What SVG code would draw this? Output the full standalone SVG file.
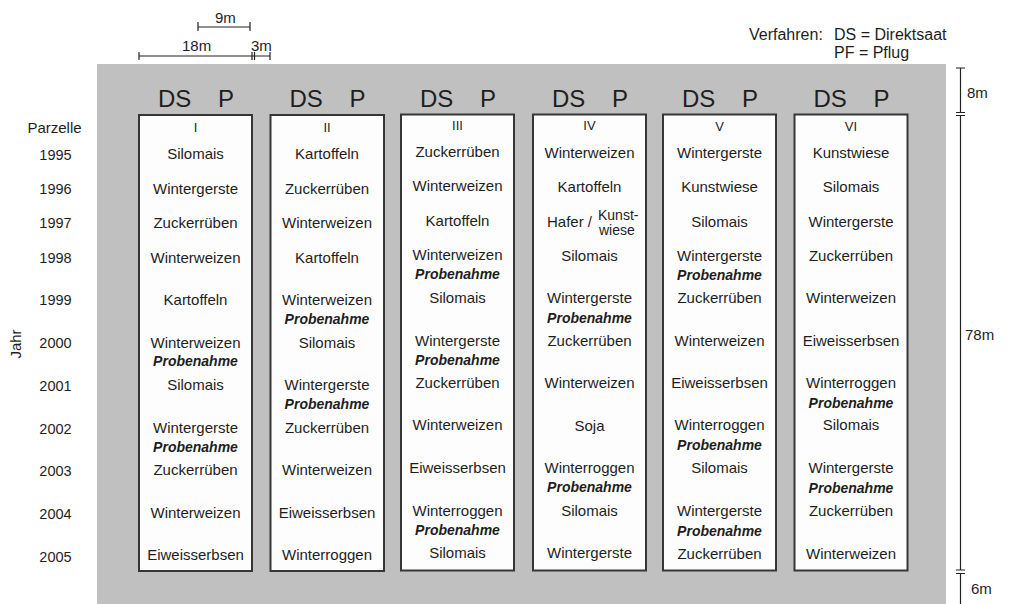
<svg xmlns="http://www.w3.org/2000/svg" width="1011" height="604" viewBox="0 0 1011 604">
<style>
text{font-family:"Liberation Sans",Arial,sans-serif;fill:#1e1e1e}
.c{font-size:15px;text-anchor:middle}
.p{font-size:14px;font-weight:bold;font-style:italic;text-anchor:middle}
.y{font-size:14.5px;text-anchor:middle}
.h{font-size:24px}
.n{font-size:13px;text-anchor:middle}
.d{font-size:15px}
.l{font-size:16px}
.box{fill:#fdfdfd;stroke:#363636;stroke-width:2}
.dim{stroke:#222;stroke-width:1.2;fill:none}
</style>
<rect x="0" y="0" width="1011" height="604" fill="#fff"/>
<rect x="97" y="64" width="849" height="540" fill="#c0c0c0"/>

<g id="scale-top">
<text class="d" x="215" y="23">9m</text>
<path class="dim" d="M198,27H250M198,22V31M250,22V31"/>
<text class="d" x="182" y="51">18m</text>
<text class="d" x="251" y="51">3m</text>
<path class="dim" d="M139,56H270M139,52V60M252,52V60M254.5,52V60M270,52V60"/>
</g>

<g id="legend">
<text class="l" x="749" y="40">Verfahren:</text>
<text class="l" x="834" y="40">DS = Direktsaat</text>
<text class="l" x="834" y="58">PF = Pflug</text>
</g>

<g id="scale-right">
<path class="dim" d="M960.5,68V112.5M956,68H965M956,112.5H965M956,115.5H965M960.5,115.5V570M956,570H965M956,573.5H965M960.5,573.5V604"/>
<text class="d" x="967" y="98">8m</text>
<text class="d" x="965" y="340">78m</text>
<text class="d" x="971" y="594">6m</text>
</g>

<g id="years">
<text x="54.5" y="133" style="font-size:15px;text-anchor:middle">Parzelle</text>
<text class="y" x="55.5" y="160">1995</text>
<text class="y" x="55.5" y="194">1996</text>
<text class="y" x="55.5" y="228">1997</text>
<text class="y" x="55.5" y="263">1998</text>
<text class="y" x="55.5" y="305">1999</text>
<text class="y" x="55.5" y="348">2000</text>
<text class="y" x="55.5" y="391">2001</text>
<text class="y" x="55.5" y="434">2002</text>
<text class="y" x="55.5" y="476">2003</text>
<text class="y" x="55.5" y="519">2004</text>
<text class="y" x="55.5" y="561.5">2005</text>
<text transform="translate(21,344) rotate(-90)" style="font-size:15px;text-anchor:middle">Jahr</text>
</g>

<g id="parcel-I">
<text class="h" x="158" y="107">DS</text><text class="h" x="218" y="107">P</text>
<rect class="box" x="139" y="115" width="113" height="456"/>
<text class="n" x="195.5" y="132">I</text>
<text class="c" x="195.5" y="159">Silomais</text>
<text class="c" x="195.5" y="193.5">Wintergerste</text>
<text class="c" x="195.5" y="228">Zuckerrüben</text>
<text class="c" x="195.5" y="262.5">Winterweizen</text>
<text class="c" x="195.5" y="305">Kartoffeln</text>
<text class="c" x="195.5" y="347.5">Winterweizen</text>
<text class="p" x="195.5" y="366">Probenahme</text>
<text class="c" x="195.5" y="390">Silomais</text>
<text class="c" x="195.5" y="432.5">Wintergerste</text>
<text class="p" x="195.5" y="451.5">Probenahme</text>
<text class="c" x="195.5" y="475">Zuckerrüben</text>
<text class="c" x="195.5" y="518">Winterweizen</text>
<text class="c" x="195.5" y="560">Eiweisserbsen</text>
</g>

<g id="parcel-II">
<text class="h" x="289.5" y="107">DS</text><text class="h" x="349.5" y="107">P</text>
<rect class="box" x="270.5" y="115" width="113.5" height="456"/>
<text class="n" x="327" y="132">II</text>
<text class="c" x="327" y="159">Kartoffeln</text>
<text class="c" x="327" y="193.5">Zuckerrüben</text>
<text class="c" x="327" y="228">Winterweizen</text>
<text class="c" x="327" y="262.5">Kartoffeln</text>
<text class="c" x="327" y="305">Winterweizen</text>
<text class="p" x="327" y="324">Probenahme</text>
<text class="c" x="327" y="347.5">Silomais</text>
<text class="c" x="327" y="390">Wintergerste</text>
<text class="p" x="327" y="409">Probenahme</text>
<text class="c" x="327" y="432.5">Zuckerrüben</text>
<text class="c" x="327" y="475">Winterweizen</text>
<text class="c" x="327" y="518">Eiweisserbsen</text>
<text class="c" x="327" y="560">Winterroggen</text>
</g>

<g id="parcel-III">
<text class="h" x="420" y="107">DS</text><text class="h" x="480" y="107">P</text>
<rect class="box" x="401" y="114.5" width="113" height="456"/>
<text class="n" x="457.5" y="130">III</text>
<text class="c" x="457.5" y="156.7">Zuckerrüben</text>
<text class="c" x="457.5" y="191">Winterweizen</text>
<text class="c" x="457.5" y="225.7">Kartoffeln</text>
<text class="c" x="457.5" y="260">Winterweizen</text>
<text class="p" x="457.5" y="279.3">Probenahme</text>
<text class="c" x="457.5" y="302.7">Silomais</text>
<text class="c" x="457.5" y="345.5">Wintergerste</text>
<text class="p" x="457.5" y="364.5">Probenahme</text>
<text class="c" x="457.5" y="388">Zuckerrüben</text>
<text class="c" x="457.5" y="430">Winterweizen</text>
<text class="c" x="457.5" y="473.3">Eiweisserbsen</text>
<text class="c" x="457.5" y="515.7">Winterroggen</text>
<text class="p" x="457.5" y="535">Probenahme</text>
<text class="c" x="457.5" y="557.7">Silomais</text>
</g>

<g id="parcel-IV">
<text class="h" x="552" y="107">DS</text><text class="h" x="612" y="107">P</text>
<rect class="box" x="533" y="114.5" width="113" height="456"/>
<text class="n" x="589.5" y="130">IV</text>
<text class="c" x="589.5" y="157.7">Winterweizen</text>
<text class="c" x="589.5" y="192.3">Kartoffeln</text>
<text x="547" y="227.3" style="font-size:15px">Hafer /</text>
<text x="598" y="220" style="font-size:14px">Kunst-</text>
<text x="599" y="235" style="font-size:14px">wiese</text>
<text class="c" x="589.5" y="260.7">Silomais</text>
<text class="c" x="589.5" y="303.3">Wintergerste</text>
<text class="p" x="589.5" y="322.7">Probenahme</text>
<text class="c" x="589.5" y="345.7">Zuckerrüben</text>
<text class="c" x="589.5" y="388.3">Winterweizen</text>
<text class="c" x="589.5" y="430.5">Soja</text>
<text class="c" x="589.5" y="473.3">Winterroggen</text>
<text class="p" x="589.5" y="492.3">Probenahme</text>
<text class="c" x="589.5" y="515.7">Silomais</text>
<text class="c" x="589.5" y="557.7">Wintergerste</text>
</g>

<g id="parcel-V">
<text class="h" x="682" y="107">DS</text><text class="h" x="742" y="107">P</text>
<rect class="box" x="663" y="114.5" width="113" height="456"/>
<text class="n" x="719.5" y="131">V</text>
<text class="c" x="719.5" y="157.7">Wintergerste</text>
<text class="c" x="719.5" y="191.7">Kunstwiese</text>
<text class="c" x="719.5" y="226.7">Silomais</text>
<text class="c" x="719.5" y="261">Wintergerste</text>
<text class="p" x="719.5" y="280">Probenahme</text>
<text class="c" x="719.5" y="303.3">Zuckerrüben</text>
<text class="c" x="719.5" y="345.7">Winterweizen</text>
<text class="c" x="719.5" y="388.3">Eiweisserbsen</text>
<text class="c" x="719.5" y="430">Winterroggen</text>
<text class="p" x="719.5" y="450">Probenahme</text>
<text class="c" x="719.5" y="473.3">Silomais</text>
<text class="c" x="719.5" y="516">Wintergerste</text>
<text class="p" x="719.5" y="535.5">Probenahme</text>
<text class="c" x="719.5" y="558.5">Zuckerrüben</text>
</g>

<g id="parcel-VI">
<text class="h" x="813.5" y="107">DS</text><text class="h" x="873.5" y="107">P</text>
<rect class="box" x="794.5" y="114.5" width="113" height="456"/>
<text class="n" x="851" y="131">VI</text>
<text class="c" x="851" y="157.7">Kunstwiese</text>
<text class="c" x="851" y="191.7">Silomais</text>
<text class="c" x="851" y="226.7">Wintergerste</text>
<text class="c" x="851" y="261">Zuckerrüben</text>
<text class="c" x="851" y="303.3">Winterweizen</text>
<text class="c" x="851" y="345.7">Eiweisserbsen</text>
<text class="c" x="851" y="388.3">Winterroggen</text>
<text class="p" x="851" y="408.3">Probenahme</text>
<text class="c" x="851" y="430">Silomais</text>
<text class="c" x="851" y="473.3">Wintergerste</text>
<text class="p" x="851" y="492.5">Probenahme</text>
<text class="c" x="851" y="516">Zuckerrüben</text>
<text class="c" x="851" y="558.5">Winterweizen</text>
</g>
</svg>
